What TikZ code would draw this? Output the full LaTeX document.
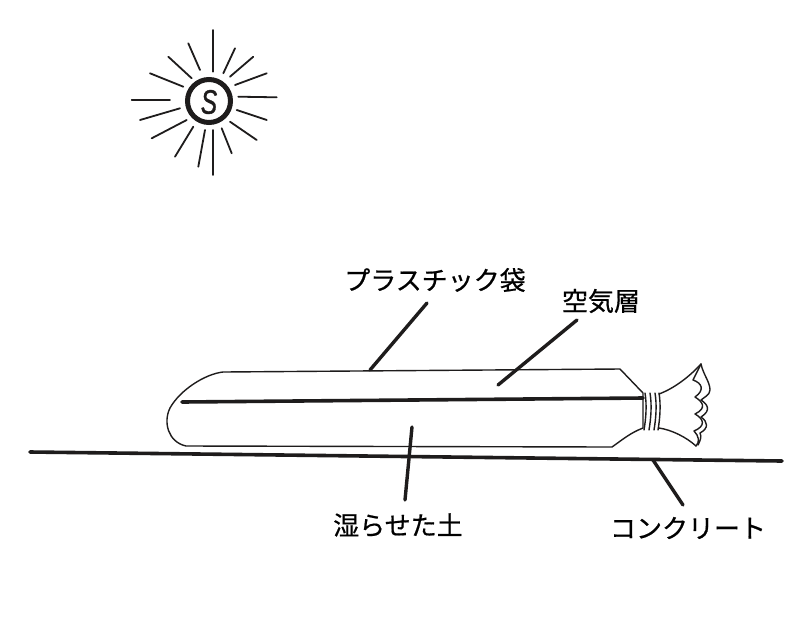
\documentclass[tikz,border=0pt]{standalone}
\usepackage{fontspec}
\newfontfamily\jpfont[FakeBold=0.6]{Noto Sans CJK JP}
\newfontfamily\sunfont[FakeBold=1.2]{Liberation Sans}
\definecolor{ink}{HTML}{1E1C1C}
\begin{document}
\begin{tikzpicture}[x=1pt,y=-1pt,
  outline/.style={draw=ink, line width=1.4pt, line join=round, line cap=round},
  heavy/.style={draw=ink, line width=3.6pt, line cap=round},
  leader/.style={draw=ink, line width=3.4pt, line cap=round},
  ray/.style={draw=ink, line width=1.8pt, line cap=round},
  lbl/.style={font=\jpfont\fontsize{26}{30}\selectfont, text=black, inner sep=0pt}]
\useasboundingbox (0,0) rectangle (798,625);
\fill[white] (0,0) rectangle (798,625);

% --- sun ---
\coordinate (sun) at (209,101);
\draw[draw=ink, line width=5pt] (sun) circle[radius=21.5];
\node[font=\sunfont\fontsize{34}{34}\selectfont\itshape, xscale=0.72, text=ink, inner sep=0pt] (s) at (209,102) {S};
\foreach \ax/\ay/\bx/\by in {
  213.3/30/213.3/71.7, 188.3/43.3/200/70, 168.3/56.7/191.7/78.3,
  150/73.3/183.3/86.7, 131.7/100/170/100, 140/120/180/108.3,
  151.7/138.3/186.7/120, 175/156.7/193.3/126.7, 198.3/166.7/205/130,
  213.3/175/213.3/130, 231.7/153.3/221.7/128.3, 256.7/140/230/121.7,
  266.7/120/236.7/110, 276.7/97.3/238.3/96.7, 266.7/73.3/235/85,
  253.3/56.7/230/76.7, 235/48.3/223.3/73.3}
  \draw[ray] (\ax,\ay) -- (\bx,\by);

% --- concrete floor ---
\coordinate (floorL) at (30,452);
\coordinate (floorR) at (782,461);
\draw[heavy] (floorL) -- (floorR);

% --- plastic bag ---
\draw[outline] (223,372) -- (620,369) -- (643,393) -- (643,428)
  .. controls (630,433) and (622,440) .. (612,447) -- (186,446)
  .. controls (168,442) and (163,422) .. (170,408)
  .. controls (180,390) and (205,374) .. cycle;
% boundary between air layer and soil
\coordinate (layerL) at (182,402);
\coordinate (layerR) at (643,398);
\draw[heavy] (layerL) -- (layerR);
% binding rings at the neck
\foreach \x in {645,650,655,659}
  \draw[outline] (\x,393) .. controls (\x+2,405) and (\x+1,418) .. (\x-1,430);
% flared open end
\draw[outline] (659,394) .. controls (675,388) and (690,376) .. (701,364);
\draw[outline] (659,428) .. controls (672,430) and (686,437) .. (696,446);
% ruffled edge
\draw[outline] (701,364) -- (693,380)
  .. controls (702,383) and (705,390) .. (695,397)
  .. controls (703,402) and (707,408) .. (695,414)
  .. controls (704,419) and (706,426) .. (694,431)
  .. controls (699,436) and (700,442) .. (696,446);
\draw[outline] (701,364) .. controls (703,374) and (710,382) .. (710,390)
  .. controls (710,395) and (703,398) .. (701,400)
  .. controls (707,404) and (712,410) .. (701,417)
  .. controls (708,422) and (709,428) .. (700,433)
  .. controls (702,437) and (700,441) .. (698,445);

% --- labels and leaders ---
\node[lbl] (bag) at (435,280) {プラスチック袋};
\coordinate (bagA) at (427,303);
\coordinate (bagB) at (370,370);
\draw[leader] (bagA) -- (bagB);

\node[lbl] (air) at (601,301) {空気層};
\coordinate (airA) at (577,320);
\coordinate (airB) at (498,385);
\draw[leader] (airA) -- (airB);

\node[lbl] (soil) at (398,525) {湿らせた土};
\coordinate (soilA) at (412,427);
\coordinate (soilB) at (405,500);
\draw[leader] (soilA) -- (soilB);

\node[lbl] (conc) at (688,528) {コンクリート};
\coordinate (concA) at (653,460);
\coordinate (concB) at (683,505);
\draw[leader] (concA) -- (concB);
\end{tikzpicture}
\end{document}
